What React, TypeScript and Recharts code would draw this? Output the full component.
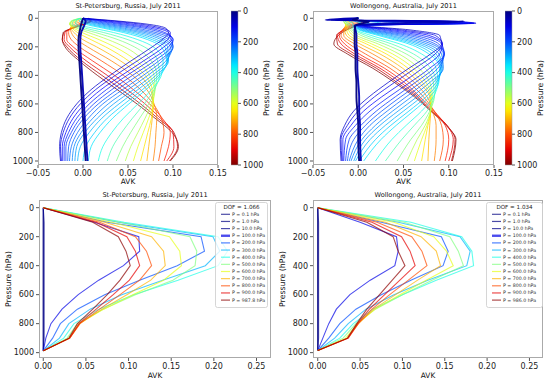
import React from "react";
import { LineChart, Line, XAxis, YAxis, ReferenceArea } from "recharts";

const FONT = "'DejaVu Sans', Verdana, sans-serif";

// top row: one kernel row per retrieval level (hPa), coloured by level
const fanLevels = [0, 50, 75, 100, 125, 150, 175, 200, 225, 250, 275, 300, 325, 350, 400, 450, 500, 550, 600, 650, 700, 750, 800, 850, 900, 950, 1000];

const spbFanPressure = [0, 20, 40, 70, 100, 150, 200, 300, 400, 500, 600, 700, 800, 900, 1000];
const spbFan = [
  [0, -0.001, -0.002, -0.003, -0.004, -0.005, -0.005, -0.004, -0.003, -0.002, -0.001, 0.0, 0.001, 0.002, 0.003],
  [0, 0.003, 0.002, 0.0, -0.002, -0.003, -0.003, -0.002, -0.001, 0.0, 0.001, 0.002, 0.003, 0.004, 0.005],
  [0, 0.04, 0.07, 0.092, 0.095, 0.088, 0.077, 0.053, 0.03, 0.009, -0.007, -0.018, -0.024, -0.026, -0.025],
  [0, 0.035, 0.062, 0.088, 0.097, 0.094, 0.084, 0.06, 0.036, 0.014, -0.003, -0.015, -0.022, -0.025, -0.024],
  [0, 0.028, 0.053, 0.082, 0.095, 0.098, 0.09, 0.067, 0.043, 0.02, 0.002, -0.011, -0.019, -0.023, -0.023],
  [0, 0.022, 0.045, 0.075, 0.091, 0.1, 0.095, 0.073, 0.049, 0.026, 0.007, -0.007, -0.016, -0.021, -0.021],
  [0, 0.017, 0.038, 0.068, 0.087, 0.1, 0.098, 0.079, 0.055, 0.032, 0.012, -0.003, -0.013, -0.019, -0.019],
  [0, 0.012, 0.031, 0.06, 0.081, 0.098, 0.1, 0.084, 0.061, 0.038, 0.017, 0.001, -0.01, -0.016, -0.017],
  [0, 0.008, 0.025, 0.053, 0.075, 0.095, 0.1, 0.088, 0.067, 0.044, 0.022, 0.006, -0.006, -0.013, -0.015],
  [0, 0.005, 0.02, 0.046, 0.069, 0.091, 0.099, 0.092, 0.072, 0.05, 0.028, 0.011, -0.002, -0.01, -0.012],
  [0, 0.002, 0.015, 0.04, 0.063, 0.087, 0.097, 0.094, 0.077, 0.056, 0.034, 0.016, 0.002, -0.007, -0.009],
  [0, 0.0, 0.01, 0.034, 0.057, 0.082, 0.094, 0.095, 0.081, 0.061, 0.04, 0.021, 0.007, -0.003, -0.006],
  [0, -0.002, 0.006, 0.028, 0.051, 0.077, 0.091, 0.094, 0.084, 0.066, 0.046, 0.027, 0.013, 0.003, 0.0],
  [0, -0.004, 0.002, 0.023, 0.045, 0.072, 0.087, 0.093, 0.086, 0.07, 0.051, 0.033, 0.019, 0.009, 0.006],
  [-0.002, -0.008, -0.008, 0.012, 0.034, 0.061, 0.078, 0.089, 0.087, 0.076, 0.061, 0.045, 0.032, 0.022, 0.017],
  [-0.003, -0.011, -0.012, 0.003, 0.023, 0.05, 0.068, 0.083, 0.085, 0.079, 0.068, 0.055, 0.043, 0.033, 0.027],
  [-0.003, -0.013, -0.014, -0.003, 0.014, 0.039, 0.057, 0.076, 0.082, 0.08, 0.073, 0.063, 0.053, 0.044, 0.037],
  [-0.003, -0.013, -0.015, -0.007, 0.006, 0.028, 0.046, 0.068, 0.079, 0.08, 0.076, 0.069, 0.061, 0.053, 0.047],
  [-0.002, -0.012, -0.015, -0.01, -0.001, 0.018, 0.035, 0.06, 0.074, 0.079, 0.078, 0.073, 0.067, 0.061, 0.056],
  [-0.001, -0.009, -0.014, -0.012, -0.006, 0.009, 0.025, 0.051, 0.069, 0.077, 0.078, 0.076, 0.072, 0.068, 0.064],
  [0, -0.006, -0.012, -0.013, -0.01, 0.0, 0.015, 0.042, 0.063, 0.075, 0.078, 0.077, 0.075, 0.073, 0.071],
  [0.001, -0.002, -0.009, -0.014, -0.013, -0.007, 0.005, 0.032, 0.055, 0.071, 0.079, 0.082, 0.081, 0.08, 0.078],
  [0.003, 0.002, -0.005, -0.014, -0.016, -0.013, -0.004, 0.021, 0.045, 0.064, 0.078, 0.087, 0.09, 0.087, 0.084],
  [0.004, 0.005, -0.002, -0.013, -0.018, -0.018, -0.011, 0.011, 0.035, 0.056, 0.074, 0.088, 0.097, 0.095, 0.09],
  [0.005, 0.007, 0.001, -0.012, -0.02, -0.021, -0.015, 0.004, 0.027, 0.049, 0.069, 0.086, 0.1, 0.101, 0.093],
  [0.006, 0.008, 0.002, -0.012, -0.021, -0.023, -0.018, -0.001, 0.021, 0.043, 0.064, 0.083, 0.101, 0.105, 0.096],
  [0.006, 0.009, 0.003, -0.012, -0.022, -0.023, -0.02, -0.004, 0.016, 0.038, 0.06, 0.08, 0.099, 0.106, 0.097],
];

const wolFanPressure = [0, 12, 22, 35, 50, 80, 120, 180, 250, 350, 450, 550, 650, 750, 850, 1000];
const wolFan = [
  [0, -0.006, 0.012, 0.005, -0.003, -0.004, -0.004, -0.004, -0.003, -0.003, -0.002, -0.002, -0.001, 0.0, 0.0, 0.001],
  [0, -0.036, 0.117, 0.04, -0.004, -0.003, -0.002, -0.002, -0.001, -0.001, 0.0, 0.001, 0.001, 0.002, 0.002, 0.003],
  [0, -0.03, 0.11, 0.1, 0.006, 0.055, 0.09, 0.092, 0.08, 0.056, 0.033, 0.012, -0.005, -0.015, -0.02, -0.019],
  [0, -0.025, 0.1, 0.13, 0.004, 0.045, 0.085, 0.093, 0.085, 0.063, 0.04, 0.018, 0.0, -0.012, -0.019, -0.018],
  [0, -0.022, 0.095, 0.128, 0.002, 0.037, 0.078, 0.093, 0.09, 0.071, 0.049, 0.026, 0.006, -0.008, -0.017, -0.017],
  [0, -0.018, 0.09, 0.125, 0.0, 0.03, 0.07, 0.092, 0.095, 0.079, 0.057, 0.034, 0.013, -0.003, -0.014, -0.016],
  [0, -0.015, 0.075, 0.12, -0.001, 0.024, 0.062, 0.089, 0.095, 0.084, 0.063, 0.041, 0.02, 0.003, -0.01, -0.014],
  [0, -0.012, 0.06, 0.115, -0.002, 0.018, 0.055, 0.085, 0.095, 0.088, 0.069, 0.047, 0.026, 0.008, -0.005, -0.012],
  [0, -0.01, 0.045, 0.09, -0.002, 0.014, 0.048, 0.081, 0.094, 0.091, 0.074, 0.053, 0.032, 0.013, 0.0, -0.01],
  [0, -0.008, 0.03, 0.07, -0.003, 0.01, 0.042, 0.076, 0.092, 0.094, 0.079, 0.059, 0.038, 0.019, 0.004, -0.008],
  [0, -0.007, 0.02, 0.045, -0.003, 0.007, 0.036, 0.071, 0.089, 0.093, 0.083, 0.065, 0.044, 0.024, 0.008, -0.005],
  [0, -0.006, 0.01, 0.025, -0.004, 0.004, 0.031, 0.066, 0.086, 0.092, 0.086, 0.07, 0.05, 0.03, 0.013, -0.003],
  [0, -0.007, 0.003, 0.012, -0.004, 0.002, 0.026, 0.061, 0.082, 0.091, 0.088, 0.075, 0.056, 0.036, 0.019, 0.001],
  [0, -0.008, -0.004, 0.004, -0.005, 0.0, 0.022, 0.056, 0.078, 0.09, 0.089, 0.079, 0.061, 0.042, 0.025, 0.006],
  [0, -0.011, -0.01, -0.006, -0.006, -0.003, 0.014, 0.046, 0.07, 0.086, 0.088, 0.083, 0.07, 0.053, 0.037, 0.019],
  [0, -0.013, -0.014, -0.011, -0.008, -0.005, 0.008, 0.037, 0.061, 0.08, 0.086, 0.084, 0.076, 0.062, 0.048, 0.03],
  [0, -0.014, -0.016, -0.014, -0.01, -0.007, 0.003, 0.029, 0.053, 0.074, 0.083, 0.084, 0.079, 0.07, 0.058, 0.043],
  [0, -0.012, -0.016, -0.015, -0.012, -0.009, -0.002, 0.022, 0.045, 0.067, 0.079, 0.082, 0.08, 0.074, 0.065, 0.054],
  [0, -0.01, -0.014, -0.015, -0.013, -0.011, -0.006, 0.015, 0.038, 0.061, 0.075, 0.081, 0.08, 0.076, 0.07, 0.062],
  [0, -0.007, -0.011, -0.014, -0.014, -0.013, -0.01, 0.009, 0.031, 0.055, 0.071, 0.08, 0.08, 0.077, 0.074, 0.07],
  [0, -0.004, -0.007, -0.012, -0.014, -0.015, -0.013, 0.002, 0.024, 0.049, 0.067, 0.079, 0.08, 0.079, 0.078, 0.077],
  [0, -0.002, -0.003, -0.009, -0.013, -0.016, -0.016, -0.004, 0.016, 0.042, 0.062, 0.076, 0.082, 0.086, 0.086, 0.084],
  [0, -0.002, 0.002, -0.004, -0.011, -0.017, -0.019, -0.01, 0.008, 0.035, 0.056, 0.072, 0.084, 0.092, 0.094, 0.09],
  [0, -0.003, 0.005, 0.001, -0.008, -0.017, -0.021, -0.015, 0.001, 0.029, 0.051, 0.068, 0.084, 0.096, 0.1, 0.096],
  [0, -0.003, 0.007, 0.004, -0.005, -0.016, -0.023, -0.019, -0.004, 0.024, 0.047, 0.066, 0.082, 0.098, 0.105, 0.1],
  [0, -0.004, 0.009, 0.006, -0.002, -0.014, -0.024, -0.023, -0.008, 0.02, 0.043, 0.064, 0.081, 0.098, 0.107, 0.103],
  [0, -0.004, 0.01, 0.008, 0.0, -0.012, -0.022, -0.027, -0.012, 0.016, 0.04, 0.062, 0.08, 0.097, 0.108, 0.104],
];

// bottom row: selected kernel rows, piecewise linear on the retrieval grid
const spbRowPressure = [0, 100, 200, 300, 400, 500, 600, 700, 800, 900, 987.8];
const spbRowLevels = [0.1, 1.0, 10.0, 100, 200, 300, 400, 500, 600, 700, 800, 900, 987.8];
const spbRows = [
  [0, 0, 0, 0, 0, 0, 0, 0, 0, 0, 0],
  [0, 0, 0, 0, 0, 0, 0, 0, 0, 0, 0],
  [0, 0.001, 0.001, 0.001, 0.001, 0.001, 0.001, 0.001, 0.001, 0.001, 0],
  [0, 0.06, 0.112, 0.113, 0.094, 0.065, 0.041, 0.022, 0.009, 0.003, 0],
  [0, 0.075, 0.185, 0.189, 0.157, 0.113, 0.072, 0.04, 0.02, 0.011, 0],
  [0, 0.088, 0.199, 0.207, 0.19, 0.14, 0.092, 0.055, 0.03, 0.019, 0],
  [0, 0.095, 0.205, 0.216, 0.205, 0.158, 0.106, 0.065, 0.036, 0.024, 0],
  [0, 0.09, 0.172, 0.18, 0.178, 0.152, 0.108, 0.07, 0.04, 0.028, 0],
  [0, 0.08, 0.148, 0.16, 0.162, 0.141, 0.105, 0.071, 0.042, 0.03, 0],
  [0, 0.072, 0.127, 0.141, 0.143, 0.126, 0.098, 0.069, 0.043, 0.031, 0],
  [0, 0.066, 0.108, 0.121, 0.127, 0.113, 0.09, 0.066, 0.043, 0.031, 0],
  [0, 0.062, 0.098, 0.108, 0.113, 0.101, 0.082, 0.062, 0.042, 0.031, 0],
  [0, 0.058, 0.088, 0.097, 0.102, 0.09, 0.075, 0.058, 0.04, 0.03, 0],
];
const spbDof = "1.066";

const wolRowPressure = [0, 100, 200, 300, 400, 500, 600, 700, 800, 900, 986.0];
const wolRowLevels = [0.1, 1.0, 10.0, 100, 200, 300, 400, 500, 600, 700, 800, 900, 986.0];
const wolRows = [
  [0, 0, 0, 0, 0, 0, 0, 0, 0, 0, 0],
  [0, 0, 0, 0, 0, 0, 0, 0, 0, 0, 0],
  [0, 0.001, 0.001, 0.001, 0.001, 0.001, 0.001, 0.001, 0.001, 0.001, 0],
  [0, 0.05, 0.093, 0.095, 0.091, 0.062, 0.038, 0.022, 0.013, 0.006, 0],
  [0, 0.075, 0.146, 0.154, 0.148, 0.11, 0.075, 0.045, 0.026, 0.013, 0],
  [0, 0.095, 0.168, 0.18, 0.176, 0.13, 0.09, 0.057, 0.036, 0.02, 0],
  [0, 0.11, 0.17, 0.182, 0.184, 0.14, 0.1, 0.065, 0.042, 0.026, 0],
  [0, 0.102, 0.156, 0.166, 0.172, 0.135, 0.1, 0.068, 0.045, 0.03, 0],
  [0, 0.09, 0.137, 0.152, 0.16, 0.128, 0.097, 0.068, 0.047, 0.033, 0],
  [0, 0.08, 0.122, 0.14, 0.145, 0.118, 0.092, 0.066, 0.048, 0.035, 0],
  [0, 0.07, 0.111, 0.123, 0.129, 0.107, 0.085, 0.064, 0.048, 0.036, 0],
  [0, 0.064, 0.099, 0.109, 0.115, 0.097, 0.079, 0.061, 0.047, 0.036, 0],
  [0, 0.058, 0.089, 0.095, 0.103, 0.088, 0.073, 0.058, 0.046, 0.035, 0],
];
const wolDof = "1.034";

const pressureTicks = [0, 200, 400, 600, 800, 1000];
const fanAvkTicks = [-0.05, 0, 0.05, 0.1, 0.15];
const rowAvkTicks = [0, 0.05, 0.1, 0.15, 0.2, 0.25];
const cbStops = [0, 0.1, 0.2, 0.3, 0.35, 0.4, 0.5, 0.6, 0.65, 0.7, 0.8, 0.9, 1];

const clamp = (v: number) => Math.max(0, Math.min(1, v));
function jet(t: number) {
  const r = clamp(1.5 - Math.abs(4 * t - 3));
  const g = clamp(1.5 - Math.abs(4 * t - 2));
  const b = clamp(1.5 - Math.abs(4 * t - 1));
  return `rgb(${Math.round(r * 255)},${Math.round(g * 255)},${Math.round(b * 255)})`;
}

function toTable(grid: number[], curves: number[][]) {
  return grid.map((p, i) => {
    const row: any = { p };
    curves.forEach((c, j) => {
      row["c" + j] = c[i];
    });
    return row;
  });
}

const fmtAvk = (v: number) => v.toFixed(2).replace("-", "\u2212");

type Box = { x0: number; y0: number; x1: number; y1: number };
type Series = { key: string; color: string; width: number; opacity: number };

const YW = 40;
const XH = 24;
const PAD_R = 14;
const tickStyle = { fontSize: 8, fill: "#222", fontFamily: FONT };

function Plot({ box, data, series, xDomain, xTicks, yDomain, curve }: {
  box: Box; data: any[]; series: Series[]; xDomain: number[]; xTicks: number[]; yDomain: number[]; curve: any;
}) {
  const w = box.x1 - box.x0;
  const h = box.y1 - box.y0;
  return (
    <>
      <div style={{ position: "absolute", left: box.x0 - YW, top: box.y0 }}>
        <LineChart layout="vertical" width={w + YW + PAD_R} height={h + XH} data={data}
          margin={{ top: 0, right: PAD_R, bottom: 0, left: 0 }}>
          <XAxis type="number" domain={xDomain} ticks={xTicks} allowDataOverflow interval={0}
            height={XH} tickFormatter={fmtAvk} tick={tickStyle} tickLine={{ stroke: "#555" }}
            axisLine={false} tickSize={3} tickMargin={2} />
          <YAxis type="number" dataKey="p" domain={yDomain} ticks={pressureTicks}
            allowDataOverflow interval={0} width={YW} tick={tickStyle} tickLine={{ stroke: "#555" }}
            axisLine={false} tickSize={3} tickMargin={2} />
          {series.map((s) => (
            <Line key={s.key} dataKey={s.key} type={curve} stroke={s.color} strokeWidth={s.width}
              strokeOpacity={s.opacity} dot={false} activeDot={false} isAnimationActive={false} />
          ))}
        </LineChart>
      </div>
      <div style={{
        position: "absolute", left: box.x0, top: box.y0, width: w, height: h,
        border: "1px solid #aaa", boxSizing: "border-box", pointerEvents: "none",
      }} />
    </>
  );
}

function Txt({ x, y, size, rotate, children }: any) {
  return (
    <div style={{
      position: "absolute", left: x, top: y, whiteSpace: "nowrap", lineHeight: 1,
      transform: `translate(-50%,-50%)${rotate ? " rotate(-90deg)" : ""}`,
      fontSize: size, fontFamily: FONT, color: "#111",
    }}>{children}</div>
  );
}

const cbEnds = [{ x: 0 }, { x: 1 }];
const CB_PAD = 7;

function Colorbar({ x, box, gid }: { x: number; box: Box; gid: string }) {
  const h = box.y1 - box.y0;
  return (
    <div style={{ position: "absolute", left: x, top: box.y0 - CB_PAD }}>
      <LineChart width={37} height={h + 2 * CB_PAD} data={cbEnds}
        margin={{ top: CB_PAD, right: 0, bottom: CB_PAD, left: 0 }}>
        <defs>
          <linearGradient id={gid} x1="0" y1="0" x2="0" y2="1">
            {cbStops.map((t) => (
              <stop key={t} offset={t} stopColor={jet(t)} />
            ))}
          </linearGradient>
        </defs>
        <XAxis type="number" dataKey="x" domain={[0, 1]} hide />
        <YAxis type="number" orientation="right" domain={[0, 1000]} reversed ticks={pressureTicks}
          allowDataOverflow interval={0} width={30} tick={tickStyle} tickLine={{ stroke: "#555" }}
          axisLine={false} tickSize={3} tickMargin={2} />
        <ReferenceArea x1={0} x2={1} y1={0} y2={1000} fill={`url(#${gid})`} fillOpacity={1}
          stroke="#999" strokeWidth={0.5} ifOverflow="visible" />
      </LineChart>
    </div>
  );
}

function KernelLegend({ left, top, width, dof, levels }: any) {
  const h = 106;
  return (
    <svg style={{ position: "absolute", left, top }} width={width} height={h}>
      <rect x={0.5} y={0.5} width={width - 1} height={h - 1} rx={2} fill="#fff" fillOpacity={0.8}
        stroke="#ccc" strokeWidth={0.8} />
      <text x={width / 2} y={4.7} textAnchor="middle" dominantBaseline="central" fontSize={5.6}
        fontFamily={FONT} fill="#222">DOF = {dof}</text>
      {levels.map((lv: number, i: number) => {
        const y = 12.3 + i * 7.15;
        return (
          <g key={lv}>
            <line x1={6} y1={y} x2={15} y2={y} stroke={jet(lv / 1000)} strokeOpacity={0.7}
              strokeWidth={lv === 100 ? 2.4 : 1.2} />
            <text x={17} y={y} dominantBaseline="central" fontSize={4.7} fontFamily={FONT} fill="#333">
              P = {lv.toFixed(1)} hPa
            </text>
          </g>
        );
      })}
    </svg>
  );
}

function fanSeries() {
  return fanLevels
    .map((lv, j) => ({
      key: "c" + j,
      color: jet(lv / 1000),
      width: lv <= 50 ? 1.9 : 1.0,
      opacity: lv <= 50 ? 0.95 : 0.75,
    }))
    .reverse();
}

function rowSeries(levels: number[]) {
  return levels.map((lv, j) => ({
    key: "c" + j,
    color: jet(lv / 1000),
    width: 1.1,
    opacity: 0.7,
  }));
}

const boxTL: Box = { x0: 38, y0: 11, x1: 218, y1: 165 };
const boxTR: Box = { x0: 313, y0: 11, x1: 494, y1: 165 };
const boxBL: Box = { x0: 39, y0: 200, x1: 271, y1: 358 };
const boxBR: Box = { x0: 313, y0: 200, x1: 543, y1: 358 };

export default function App() {
  const spbFanData = toTable(spbFanPressure, spbFan);
  const wolFanData = toTable(wolFanPressure, wolFan);
  const spbRowData = toTable(spbRowPressure, spbRows);
  const wolRowData = toTable(wolRowPressure, wolRows);
  return (
    <div style={{
      position: "absolute", left: 0, top: 0, width: 550, height: 381,
      background: "#fff", overflow: "hidden", fontFamily: FONT,
    }}>
      <Plot box={boxTL} data={spbFanData} series={fanSeries()} xDomain={[-0.05, 0.15]}
        xTicks={fanAvkTicks} yDomain={[-51, 1028]} curve="monotone" />
      <Plot box={boxTR} data={wolFanData} series={fanSeries()} xDomain={[-0.05, 0.15]}
        xTicks={fanAvkTicks} yDomain={[-51, 1028]} curve="monotone" />
      <Plot box={boxBL} data={spbRowData} series={rowSeries(spbRowLevels)} xDomain={[-0.005, 0.267]}
        xTicks={rowAvkTicks} yDomain={[-53, 1037]} curve="linear" />
      <Plot box={boxBR} data={wolRowData} series={rowSeries(wolRowLevels)} xDomain={[-0.0056, 0.266]}
        xTicks={rowAvkTicks} yDomain={[-53, 1037]} curve="linear" />

      <Colorbar x={231} box={boxTL} gid="jetL" />
      <Colorbar x={505} box={boxTR} gid="jetR" />

      <KernelLegend left={215} top={202} width={53} dof={spbDof} levels={spbRowLevels} />
      <KernelLegend left={486} top={202} width={57} dof={wolDof} levels={wolRowLevels} />

      <Txt x={128} y={5.5} size={6.6}>St-Petersburg, Russia, July 2011</Txt>
      <Txt x={403.5} y={5.5} size={6.6}>Wollongong, Australia, July 2011</Txt>
      <Txt x={155} y={194.5} size={6.6}>St-Petersburg, Russia, July 2011</Txt>
      <Txt x={428} y={194.5} size={6.6}>Wollongong, Australia, July 2011</Txt>

      <Txt x={128} y={182} size={7.4}>AVK</Txt>
      <Txt x={403.5} y={182} size={7.4}>AVK</Txt>
      <Txt x={155} y={375.5} size={7.4}>AVK</Txt>
      <Txt x={428} y={375.5} size={7.4}>AVK</Txt>

      <Txt x={9} y={88} size={7.8} rotate>Pressure (hPa)</Txt>
      <Txt x={281} y={88} size={7.8} rotate>Pressure (hPa)</Txt>
      <Txt x={9} y={279} size={7.8} rotate>Pressure (hPa)</Txt>
      <Txt x={283} y={279} size={7.8} rotate>Pressure (hPa)</Txt>
      <Txt x={267} y={88} size={7.8} rotate>Pressure (hPa)</Txt>
      <Txt x={541} y={88} size={7.8} rotate>Pressure (hPa)</Txt>
    </div>
  );
}
